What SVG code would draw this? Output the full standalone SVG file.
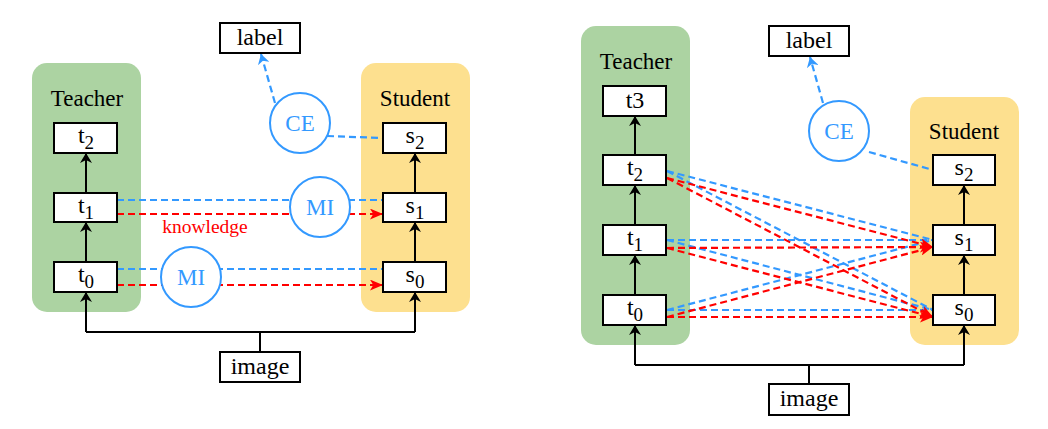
<svg xmlns="http://www.w3.org/2000/svg" width="1048" height="429" viewBox="0 0 1048 429">
<defs>
<style>
text{font-family:"Liberation Serif","DejaVu Serif",serif;font-size:23px;fill:#000}
.grp-t{fill:#acd3a2}
.grp-s{fill:#fde08f}
.node{fill:#fff;stroke:#000;stroke-width:2}
.circ{fill:#fff;stroke:#3399ff;stroke-width:2}
.ctxt{fill:#3399ff;text-anchor:middle}
.mid{text-anchor:middle}
.nt{font-size:24px}
.blk{fill:none;stroke:#000;stroke-width:2}
.blue{fill:none;stroke:#3399ff;stroke-width:2.2;stroke-dasharray:7 4}
.red{fill:none;stroke:#ff0000;stroke-width:2.2;stroke-dasharray:7 4}
.sub{font-size:19px}
</style>
<marker id="ab" viewBox="0 0 10 12" markerWidth="10" markerHeight="12" refX="10" refY="6" orient="auto" markerUnits="userSpaceOnUse"><path d="M0,0 L10,6 L0,12 L3,6 z" fill="#000"/></marker>
<marker id="ar" viewBox="0 0 12 10" markerWidth="13" markerHeight="11" refX="12" refY="5" orient="auto" markerUnits="userSpaceOnUse"><path d="M0,0 L12,5 L0,10 L3,5 z" fill="#ff0000"/></marker>
<marker id="au" viewBox="0 0 10 12" markerWidth="10" markerHeight="12" refX="10" refY="6" orient="auto" markerUnits="userSpaceOnUse"><path d="M0,0 L10,6 L0,12 L3,6 z" fill="#3399ff"/></marker>
</defs>
<rect width="1048" height="429" fill="#fff"/>

<!-- LEFT DIAGRAM -->
<g id="L-teacher-group"><rect class="grp-t" x="32" y="63" width="109" height="249" rx="15"/><text class="mid" x="87" y="106">Teacher</text></g>
<g id="L-student-group"><rect class="grp-s" x="361" y="63" width="109" height="249" rx="15"/><text class="mid" x="415" y="106">Student</text></g>

<g id="L-connectors">
<path class="blk" d="M86,262 L86,222" marker-end="url(#ab)"/>
<path class="blk" d="M86,193 L86,153" marker-end="url(#ab)"/>
<path class="blk" d="M415,262 L415,222" marker-end="url(#ab)"/>
<path class="blk" d="M415,193 L415,153" marker-end="url(#ab)"/>
<path class="blk" d="M260,352 L260,332 M86,332 L415,332"/>
<path class="blk" d="M86,332 L86,292" marker-end="url(#ab)"/>
<path class="blk" d="M415,332 L415,292" marker-end="url(#ab)"/>
<path class="blue" d="M117,200 L383,200"/>
<path class="red" d="M117,214 L383,214" marker-end="url(#ar)"/>
<path class="blue" d="M117,269 L383,269"/>
<path class="red" d="M117,285 L383,285" marker-end="url(#ar)"/>
<path class="blue" d="M327,136 L383,138"/>
<path class="blue" d="M275,103 L261,54" marker-end="url(#au)"/>
<text x="205" y="233" class="mid" style="font-size:19.5px;fill:#ff0000">knowledge</text>
</g>

<g id="L-t2"><rect class="node" x="54" y="123" width="63" height="30"/><text class="mid nt" x="86" y="143">t<tspan class="sub" dy="6">2</tspan></text></g>
<g id="L-t1"><rect class="node" x="54" y="193" width="63" height="29"/><text class="mid nt" x="86" y="213">t<tspan class="sub" dy="6">1</tspan></text></g>
<g id="L-t0"><rect class="node" x="54" y="262" width="63" height="30"/><text class="mid nt" x="86" y="282">t<tspan class="sub" dy="6">0</tspan></text></g>
<g id="L-s2"><rect class="node" x="383" y="123" width="63" height="30"/><text class="mid nt" x="415" y="143">s<tspan class="sub" dy="6">2</tspan></text></g>
<g id="L-s1"><rect class="node" x="383" y="193" width="63" height="29"/><text class="mid nt" x="415" y="213">s<tspan class="sub" dy="6">1</tspan></text></g>
<g id="L-s0"><rect class="node" x="383" y="262" width="63" height="30"/><text class="mid nt" x="415" y="282">s<tspan class="sub" dy="6">0</tspan></text></g>
<g id="L-label"><rect class="node" x="220" y="23" width="80" height="30"/><text class="mid nt" x="260" y="45">label</text></g>
<g id="L-image"><rect class="node" x="220" y="352" width="80" height="30"/><text class="mid nt" x="260" y="374">image</text></g>
<g id="L-CE"><circle class="circ" cx="300" cy="123" r="30"/><text class="ctxt" x="300" y="131">CE</text></g>
<g id="L-MI1"><circle class="circ" cx="320" cy="207" r="30"/><text class="ctxt" x="320" y="215">MI</text></g>
<g id="L-MI0"><circle class="circ" cx="191" cy="277" r="30"/><text class="ctxt" x="191" y="285">MI</text></g>

<!-- RIGHT DIAGRAM -->
<g id="R-teacher-group"><rect class="grp-t" x="581" y="26" width="109" height="319" rx="15"/><text class="mid" x="636" y="69">Teacher</text></g>
<g id="R-student-group"><rect class="grp-s" x="910" y="97" width="109" height="248" rx="15"/><text class="mid" x="964" y="139">Student</text></g>

<g id="R-connectors">
<path class="blk" d="M635,295 L635,255" marker-end="url(#ab)"/>
<path class="blk" d="M635,225 L635,185" marker-end="url(#ab)"/>
<path class="blk" d="M635,155 L635,116" marker-end="url(#ab)"/>
<path class="blk" d="M964,295 L964,255" marker-end="url(#ab)"/>
<path class="blk" d="M964,225 L964,185" marker-end="url(#ab)"/>
<path class="blk" d="M809,384 L809,365 M635,365 L964,365"/>
<path class="blk" d="M635,365 L635,325" marker-end="url(#ab)"/>
<path class="blk" d="M964,365 L964,325" marker-end="url(#ab)"/>
<path class="blue" d="M667,171 L933,240"/>
<path class="blue" d="M667,171 L933,310"/>
<path class="blue" d="M667,240 L933,240"/>
<path class="blue" d="M667,240 L933,310"/>
<path class="blue" d="M667,310 L933,240"/>
<path class="blue" d="M667,310 L933,310"/>
<path class="red" d="M667,178 L933,247" marker-end="url(#ar)"/>
<path class="red" d="M667,178 L933,317" marker-end="url(#ar)"/>
<path class="red" d="M667,248 L933,247" marker-end="url(#ar)"/>
<path class="red" d="M667,248 L933,317" marker-end="url(#ar)"/>
<path class="red" d="M667,317 L933,247" marker-end="url(#ar)"/>
<path class="red" d="M667,317 L933,317" marker-end="url(#ar)"/>
<path class="blue" d="M869,152 L933,170"/>
<path class="blue" d="M823,103 L810,57" marker-end="url(#au)"/>
</g>

<g id="R-t3"><rect class="node" x="603" y="86" width="63" height="30"/><text class="mid nt" x="635" y="108">t3</text></g>
<g id="R-t2"><rect class="node" x="603" y="155" width="63" height="30"/><text class="mid nt" x="635" y="175">t<tspan class="sub" dy="6">2</tspan></text></g>
<g id="R-t1"><rect class="node" x="603" y="225" width="63" height="30"/><text class="mid nt" x="635" y="245">t<tspan class="sub" dy="6">1</tspan></text></g>
<g id="R-t0"><rect class="node" x="603" y="295" width="63" height="30"/><text class="mid nt" x="635" y="315">t<tspan class="sub" dy="6">0</tspan></text></g>
<g id="R-s2"><rect class="node" x="933" y="155" width="62" height="30"/><text class="mid nt" x="964" y="175">s<tspan class="sub" dy="6">2</tspan></text></g>
<g id="R-s1"><rect class="node" x="933" y="225" width="62" height="30"/><text class="mid nt" x="964" y="245">s<tspan class="sub" dy="6">1</tspan></text></g>
<g id="R-s0"><rect class="node" x="933" y="295" width="62" height="30"/><text class="mid nt" x="964" y="315">s<tspan class="sub" dy="6">0</tspan></text></g>
<g id="R-label"><rect class="node" x="769" y="26" width="80" height="30"/><text class="mid nt" x="809" y="48">label</text></g>
<g id="R-image"><rect class="node" x="769" y="384" width="80" height="31"/><text class="mid nt" x="809" y="406">image</text></g>
<g id="R-CE"><circle class="circ" cx="839" cy="131" r="30"/><text class="ctxt" x="839" y="139">CE</text></g>
</svg>
